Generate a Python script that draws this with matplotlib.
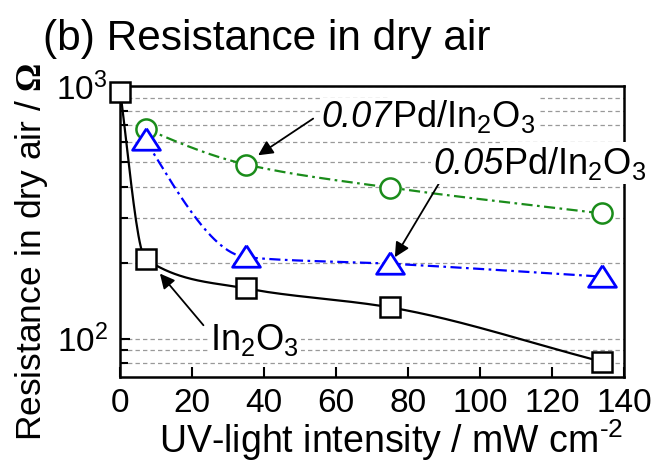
import numpy as np
import matplotlib
matplotlib.use('Agg')
import matplotlib.pyplot as plt
import matplotlib.transforms as mtransforms
from matplotlib.ticker import FixedLocator, NullFormatter, LogFormatterSciNotation
from matplotlib.markers import MarkerStyle

plt.rcParams['font.family'] = ['Liberation Sans', 'DejaVu Sans']
plt.rcParams['mathtext.fontset'] = 'custom'
plt.rcParams['mathtext.rm'] = 'Liberation Sans'
plt.rcParams['mathtext.it'] = 'Liberation Sans:italic'
plt.rcParams['mathtext.bf'] = 'Liberation Serif:bold'

# UV intensity (mW cm-2) and resistance in dry air (ohm)
x_in2o3 = [0, 7, 35, 75, 134]
r_in2o3 = [950, 207, 158, 133, 81]

x_pd005 = [7, 35, 75, 134]
r_pd005 = [610, 210, 198, 176]

x_pd007 = [7, 35, 75, 134]
r_pd007 = [679, 489, 396, 313]

x_ticks = [0, 20, 40, 60, 80, 100, 120, 140]


def pchip(x, y, xs):
    """monotone cubic through the points (the original uses a smooth connector)"""
    x = np.asarray(x, float)
    y = np.asarray(y, float)
    h = np.diff(x)
    d = np.diff(y) / h
    n = len(x)
    m = np.zeros(n)
    for k in range(1, n - 1):
        if d[k - 1] * d[k] > 0:
            w1 = 2 * h[k] + h[k - 1]
            w2 = h[k] + 2 * h[k - 1]
            m[k] = (w1 + w2) / (w1 / d[k - 1] + w2 / d[k])

    # steep start, plain secant at the right end
    s = ((2 * h[0] + h[1]) * d[0] - h[0] * d[1]) / (h[0] + h[1])
    m[0] = s if np.sign(s) == np.sign(d[0]) else 0.0
    m[-1] = d[-1]

    i = np.clip(np.searchsorted(x, xs) - 1, 0, n - 2)
    t = (xs - x[i]) / h[i]
    h00 = 2 * t**3 - 3 * t**2 + 1
    h10 = t**3 - 2 * t**2 + t
    h01 = -2 * t**3 + 3 * t**2
    h11 = t**3 - t**2
    return h00 * y[i] + h10 * h[i] * m[i] + h01 * y[i + 1] + h11 * h[i] * m[i + 1]


def smooth(x, r):
    xs = np.linspace(x[0], x[-1], 400)
    ys = 10 ** pchip(x, np.log10(r), xs)
    return xs, ys


fig = plt.figure(figsize=(6.59, 4.65), dpi=100)
ax = fig.add_axes([0.1826, 0.1892, 0.7643, 0.6258])

tri = MarkerStyle([(0, 0.85), (-1, -0.7), (1, -0.7), (0, 0.85)])

# green 0.07Pd
xs, ys = smooth(x_pd007, r_pd007)
ax.plot(xs, ys, color='#1a8c1a', lw=1.6, dashes=(5, 2, 1.2, 2), zorder=3)
ax.plot(x_pd007, r_pd007, 'o', ms=14.5, mfc='white', mec='#1a8c1a', mew=1.8, zorder=4)

# blue 0.05Pd
xs, ys = smooth(x_pd005, r_pd005)
ax.plot(xs, ys, color='#0000ff', lw=1.6, dashes=(5, 2, 1.2, 2), zorder=3)
ax.plot(x_pd005, r_pd005, ls='none', marker=tri, ms=20, mfc='white', mec='#0000ff', mew=2.0, zorder=4)

# black In2O3
xs, ys = smooth(x_in2o3, r_in2o3)
ax.plot(xs, ys, color='black', lw=1.6, zorder=3)
ax.plot(x_in2o3, r_in2o3, 's', ms=15, mfc='white', mec='black', mew=1.8, zorder=4, clip_on=False)

ax.set_yscale('log')
ax.set_xlim(0, 140)
ax.set_ylim(70.5, 1000)
ax.xaxis.set_major_locator(FixedLocator(x_ticks))
ax.yaxis.set_major_formatter(LogFormatterSciNotation())
ax.yaxis.set_minor_formatter(NullFormatter())

ax.yaxis.grid(True, which='both', color='#999999', lw=0.9, dashes=(3.5, 2.5), zorder=0)
ax.set_axisbelow(True)

for s in ax.spines.values():
    s.set_linewidth(1.8)
ax.tick_params(axis='both', which='both', direction='in', top=False, right=False,
               labelsize=24, width=1.5)
ax.tick_params(axis='x', which='major', length=7, pad=8)
ax.tick_params(axis='y', which='major', length=7, pad=9)
ax.tick_params(axis='y', which='minor', length=6)

ax.set_xlabel('UV-light intensity / mW cm$^{\\text{-2}}$', fontsize=27)
ax.xaxis.set_label_coords(0.537, -0.138)
ax.set_ylabel('Resistance in dry air / $\\mathbf{\\Omega}$', fontsize=25.5)
ax.yaxis.set_label_coords(-0.14, 0.431)

fig.text(43 / 659, 1 - 50 / 465, '(b) Resistance in dry air', fontsize=30.5,
         ha='left', va='baseline')

# labels with arrows
box = dict(boxstyle='square,pad=0.06', fc='white', ec='none')
arrow = dict(arrowstyle='-|>', color='black', lw=1.3, mutation_scale=22,
             shrinkA=0, shrinkB=0)
renderer = fig.canvas.get_renderer()


def pd_label(x, y, amount):
    # italic amount, then upright Pd/In2O3 right after it
    t1 = ax.text(x, y, amount, fontsize=26, style='italic', ha='left', va='baseline',
                 bbox=box, zorder=6, clip_on=False)
    w = t1.get_window_extent(renderer).width
    tr = mtransforms.offset_copy(ax.transData, fig=fig, x=w, y=0, units='dots')
    ax.text(x, y, 'Pd/In$_2$O$_3$', fontsize=26, ha='left', va='baseline', transform=tr,
            bbox=box, zorder=5, clip_on=False)


ax.annotate('', xy=(11.0, 181), xytext=(23.1, 113), arrowprops=arrow, zorder=6)
ax.text(24.9, 89.9, 'In$_2$O$_3$', fontsize=26, ha='left', va='baseline', bbox=box, zorder=5)

ax.annotate('', xy=(38.3, 532), xytext=(53.6, 743), arrowprops=arrow, zorder=6)
pd_label(56.0, 689, '0.07')

ax.annotate('', xy=(76.3, 210), xytext=(88.8, 417), arrowprops=arrow, zorder=6)
pd_label(86.9, 450, '0.05')

fig.savefig('out.png', dpi=100)
